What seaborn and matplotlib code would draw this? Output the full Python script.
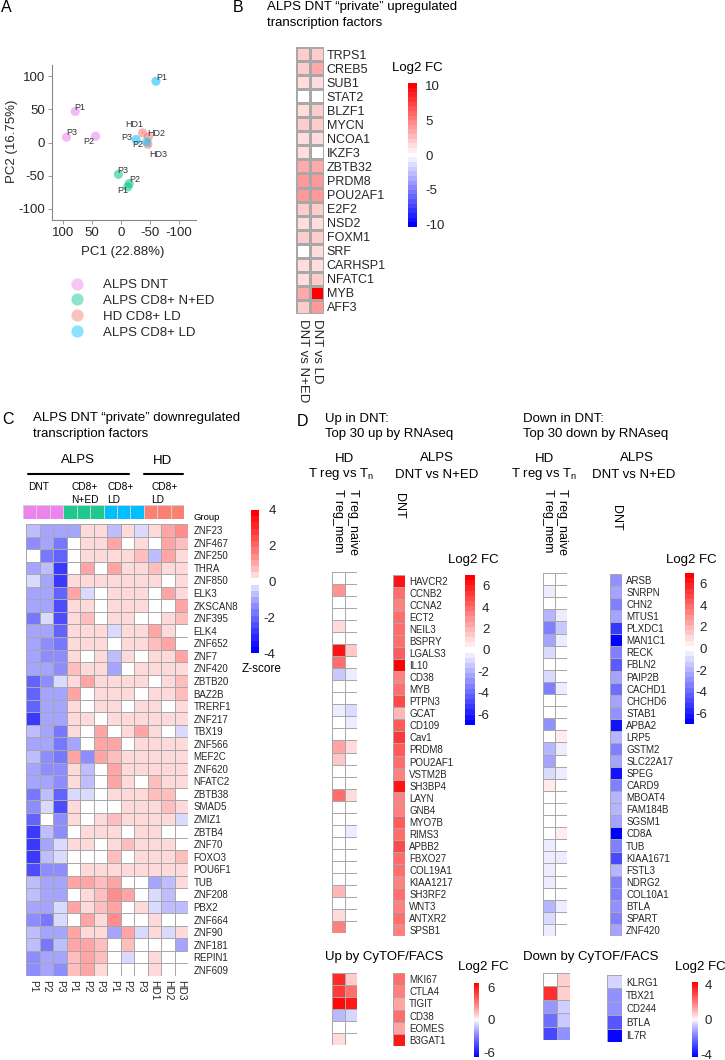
import numpy as np
import pandas as pd
import matplotlib
matplotlib.use("Agg")
import matplotlib.pyplot as plt
from matplotlib.colors import ListedColormap
from matplotlib.lines import Line2D
import seaborn as sns

# ---------------- data ----------------
pca_group = ["ALPS DNT"] * 3 + ["ALPS CD8+ N+ED"] * 3 + ["HD CD8+ LD"] * 3 + ["ALPS CD8+ LD"] * 3
pca_sample = ["P1", "P2", "P3", "P1", "P2", "P3", "HD1", "HD2", "HD3", "P1", "P2", "P3"]
pca_pc1 = [79, 44, 94, -11.5, -14, 4.6, -37, -47, -46, -60, -44, -26]
pca_pc2 = [47, 9.5, 8, -67, -62, -48, 14.5, 8.5, -2.6, 92.5, 1, 4.5]
legend_order = ["ALPS DNT", "ALPS CD8+ N+ED", "HD CD8+ LD", "ALPS CD8+ LD"]

b_genes = ["TRPS1", "CREB5", "SUB1", "STAT2", "BLZF1", "MYCN", "NCOA1", "IKZF3", "ZBTB32", "PRDM8",
           "POU2AF1", "E2F2", "NSD2", "FOXM1", "SRF", "CARHSP1", "NFATC1", "MYB", "AFF3"]
b_vs_ned = [1.9, 2.0, 1.2, 0.0, 1.2, 2.0, 1.2, 1.2, 3.0, 3.8, 3.8, 2.0, 1.2, 2.0, 0.0, 1.2, 1.2, 3.5, 2.0]
b_vs_ld = [1.9, 3.0, 1.2, 0.0, 2.0, 2.0, 1.2, 0.0, 3.0, 4.0, 4.2, 2.0, 1.2, 2.0, 1.2, 1.2, 2.0, 10.0, 4.0]

c_samples = ["P1", "P2", "P3", "P1", "P2", "P3", "P1", "P2", "P3", "HD1", "HD2", "HD3"]
c_groups = ["DNT"] * 3 + ["CD8+ N+ED"] * 3 + ["CD8+ LD"] * 3 + ["HD CD8+ LD"] * 3
c_genes = ["ZNF23", "ZNF467", "ZNF250", "THRA", "ZNF850", "ELK3", "ZKSCAN8", "ZNF395", "ELK4", "ZNF652",
           "ZNF7", "ZNF420", "ZBTB20", "BAZ2B", "TRERF1", "ZNF217", "TBX19", "ZNF566", "MEF2C", "ZNF620",
           "NFATC2", "ZBTB38", "SMAD5", "ZMIZ1", "ZBTB4", "ZNF70", "FOXO3", "POU6F1", "TUB", "ZNF208",
           "PBX2", "ZNF664", "ZNF90", "ZNF181", "REPIN1", "ZNF609"]
c_zscore = [
    [-0.6, -1.0, -0.9, -1.2, 0.4, 0.2, -0.7, 0.5, -0.3, 0.5, 0.9, 1.3],
    [-1.5, -1.0, -1.7, 0.0, 0.3, 0.5, 0.9, 0.0, 0.3, 0.0, 0.9, 0.6],
    [0.0, -1.7, -2.0, 0.0, 0.3, 0.4, 0.5, 0.3, 0.6, -0.6, 0.9, 0.4],
    [-1.2, -0.7, -2.8, 0.0, 1.0, 0.0, 0.9, 0.3, 0.4, 0.6, 0.4, 0.3],
    [-0.4, -1.0, -2.8, 0.4, 0.5, 0.3, 0.4, 0.3, 0.2, 0.3, 0.0, 0.3],
    [-1.2, -1.0, -2.2, 1.0, -0.3, 0.0, 0.5, 0.4, 0.3, 0.0, 0.9, 0.3],
    [-1.0, -0.9, -2.3, 0.3, 0.4, 0.0, 0.4, 0.3, 0.3, 0.0, 0.0, 1.0],
    [-1.7, -0.3, -2.3, 0.3, 0.6, 0.0, 0.4, 0.3, 0.0, 0.0, 0.2, 0.6],
    [-1.0, -1.0, -2.0, 0.3, 0.3, 0.2, -0.3, 0.5, 0.4, 0.9, 0.5, 0.0],
    [-1.0, -1.4, -1.7, 0.3, 0.4, 0.3, 0.0, 0.4, 0.3, 0.7, 0.9, 0.0],
    [-1.2, -1.4, -1.5, 0.3, 0.0, 0.5, -0.7, 0.5, 0.0, 0.5, 0.5, 0.9],
    [-1.0, -1.2, -1.4, 0.7, 0.5, 0.3, -0.9, 0.0, 0.5, 0.4, 0.5, 0.3],
    [-2.2, -1.4, -0.4, 0.5, 0.9, 0.3, 0.3, 0.4, 0.2, 0.0, 0.3, 0.6],
    [-2.0, -1.0, -1.2, 1.1, 0.0, 0.2, 0.3, 0.4, 0.0, 0.3, 0.3, 0.6],
    [-2.2, -1.2, -1.0, 0.5, 0.0, 0.4, 0.5, 0.0, 0.3, 0.3, 0.0, 0.5],
    [-2.8, -1.0, -0.9, 0.4, 0.3, 0.0, 0.4, 0.3, 0.3, 0.4, 0.5, 0.5],
    [-0.6, -1.2, -1.7, 0.4, 0.0, 1.1, 0.0, 0.4, 1.1, 0.3, 0.0, -0.3],
    [-1.0, -1.2, -1.7, -1.2, 0.0, 1.1, 0.9, 0.0, 0.3, 0.3, 0.3, 0.4],
    [-0.7, -1.4, -1.7, 0.9, -1.3, 0.9, 0.6, 0.3, 0.4, 0.3, 0.3, 0.4],
    [-1.0, -1.4, -1.5, 0.5, -0.6, 0.0, 0.9, 0.3, 0.3, 0.5, 0.3, 0.5],
    [-1.0, -1.2, -1.5, 0.4, -0.8, 0.0, 1.0, 0.4, 0.0, 0.8, 0.3, 0.3],
    [-1.7, -0.6, -2.0, -0.3, -0.3, 0.0, 0.4, 0.3, 0.3, 0.8, 0.6, 0.0],
    [-1.5, -0.4, -2.3, 0.3, 0.0, 0.0, 0.0, 0.5, 0.5, 0.3, 0.8, 0.5],
    [-2.0, 0.0, -1.5, 0.3, 0.0, 0.3, 0.8, 0.3, 0.3, 0.3, 0.3, -0.3],
    [-2.7, -0.6, -1.5, 0.0, 0.4, 0.3, 0.5, 0.0, 0.3, 0.5, 0.0, 0.0],
    [-2.7, -1.0, -0.5, 0.3, 0.4, 0.0, 0.3, 0.8, 0.5, 0.3, 0.4, 0.0],
    [-2.7, -0.6, -0.4, 0.0, 0.0, 0.0, 0.6, 0.0, 0.5, 0.5, 0.3, 0.6],
    [-2.3, -1.5, -1.5, 0.0, 0.3, 0.3, 0.3, 0.5, 0.5, 0.4, 0.4, 0.3],
    [-0.6, -1.0, -1.0, 0.9, 0.9, 0.6, 0.9, 0.0, 0.0, -1.2, -0.7, 0.3],
    [-0.6, -1.0, -0.9, 0.0, 0.4, 0.7, 1.3, 0.9, 0.0, -0.3, -0.7, 0.0],
    [-1.0, -1.0, -0.3, 0.9, 0.5, 0.6, 1.1, 0.0, 0.5, -0.3, -0.7, -0.7],
    [-1.3, -1.9, -0.3, 0.0, 0.9, 0.4, 1.3, 0.0, 0.0, 0.3, 0.0, 0.0],
    [-0.7, -1.0, -1.2, 1.1, 0.3, 0.5, -1.0, 1.1, -0.3, 0.3, -0.3, 0.5],
    [-0.6, -1.9, -0.7, 1.1, 0.9, 0.8, 0.0, 0.6, 0.0, 0.0, 0.0, -0.9],
    [-1.4, -1.0, -1.2, 0.8, 1.2, 0.6, 0.0, -0.3, 0.0, 0.4, 0.0, 0.0],
    [-1.4, -1.0, -1.4, 0.6, 1.0, 0.5, 0.0, 0.0, 0.0, 0.5, 0.0, 0.0],
]

d_up_genes = ["HAVCR2", "CCNB2", "CCNA2", "ECT2", "NEIL3", "BSPRY", "LGALS3", "IL10", "CD38", "MYB",
              "PTPN3", "GCAT", "CD109", "Cav1", "PRDM8", "POU2AF1", "VSTM2B", "SH3BP4", "LAYN", "GNB4",
              "MYO7B", "RIMS3", "APBB2", "FBXO27", "COL19A1", "KIAA1217", "SH3RF2", "WNT3", "ANTXR2", "SPSB1"]
d_up_treg_mem = [0, 3, 0, 0, 1.2, 0, 6.5, 4, -1.5, 0, 0, -0.7, 0, 0, 2.5, 1.5, 0, 0, 4, 0,
                 0, 0, 0, 0, 0, 0, 2, 0, 1.2, 3.5]
d_up_treg_naive = [0, 0, 0, 0, 0, 0, 1.5, 0, -0.7, 0, 0, -1.0, -0.7, 0, 1.2, 0, 0, 0, 1.2, 0,
                   0, -0.7, 0, 0, 0, 0, 0, 0, 0, 0]
d_up_dnt = [6.2, 3.8, 3.5, 3.8, 3.8, 3.8, 4.3, 7, 3.5, 3.8, 4.8, 2.0, 4.3, 5.5, 4.3, 3.8, 3.5, 6.3, 3.5, 3.5,
            4.3, 3.8, 5.0, 3.8, 3.8, 3.5, 3.8, 3.5, 3.8, 3.5]

d_down_genes = ["ARSB", "SNRPN", "CHN2", "MTUS1", "PLXDC1", "MAN1C1", "RECK", "FBLN2", "PAIP2B", "CACHD1",
                "CHCHD6", "STAB1", "APBA2", "LRP5", "GSTM2", "SLC22A17", "SPEG", "CARD9", "MBOAT4", "FAM184B",
                "SGSM1", "CD8A", "TUB", "KIAA1671", "FSTL3", "NDRG2", "COL10A1", "BTLA", "SPART", "ZNF420"]
d_down_treg_mem = [0, -0.7, 0, -1.7, -3.5, -2.4, -1.2, 0, -1.2, -3.2, 0, 0, -2.7, 0, -1.7, -2.2, -1.2, 0.6, 0, 0,
                   0, 0, -0.7, -0.6, -0.7, -0.6, 0, -1.7, -1.2, -0.7]
d_down_treg_naive = [0, 0, 0, -0.7, -1.3, -0.7, 0, 0, 0, -0.7, 0, 0, 0, 0.6, -0.6, 0, -0.6, 0, 0, 0,
                     0, 0.6, 0, -0.6, 0, 0, 0, -0.6, 0, 0]
d_down_dnt = [-2.9, -2.3, -3.3, -2.5, -5.5, -6.8, -3.5, -4.2, -2.5, -4.0, -2.6, -2.8, -6.5, -2.0, -3.2, -2.6,
              -6.3, -3.3, -1.8, -1.8, -2.3, -7.0, -3.3, -4.8, -1.8, -3.3, -3.3, -3.0, -3.6, -2.3]

cy_up_genes = ["MKI67", "CTLA4", "TIGIT", "CD38", "EOMES", "B3GAT1"]
cy_up_treg_mem = [5.5, 5, 6.5, -1.5, 0, 0.7]
cy_up_treg_naive = [1, 3.5, 6, -0.8, 0, 0]
cy_up_dnt = [3.5, 3, 2, 3.5, 2, 6]

cy_down_genes = ["KLRG1", "TBX21", "CD244", "BTLA", "IL7R"]
cy_down_treg_mem = [0, 3.4, -1.5, -2.2, -2.9]
cy_down_treg_naive = [0.6, 0.6, -0.6, -0.7, -1.6]
cy_down_dnt = [-0.5, -1.6, -1.6, -2.6, -4.2]

# ---------------- style ----------------
sns.set_theme(style="white")
plt.rcParams["font.family"] = ["Liberation Sans", "DejaVu Sans"]
plt.rcParams["mathtext.fontset"] = "custom"
plt.rcParams["mathtext.rm"] = "Liberation Sans"
plt.rcParams["axes.unicode_minus"] = False

W, H = 725, 1060
fig = plt.figure(figsize=(W / 100, H / 100), dpi=100)
fig.patch.set_facecolor("white")


def box(x0, y0, x1, y1):
    return fig.add_axes([x0 / W, 1 - y1 / H, (x1 - x0) / W, (y1 - y0) / H])


def ftext(x, y, s, **kw):
    kw.setdefault("va", "center")
    kw.setdefault("color", "black")
    return fig.text(x / W, 1 - y / H, s, **kw)


def hline(x0, x1, y, lw=1.5):
    fig.add_artist(Line2D([x0 / W, x1 / W], [1 - y / H, 1 - y / H], color="black", lw=lw,
                          transform=fig.transFigure))


def stepped_cmap(n_side, white_bins=1, gamma=1.0):
    cols = []
    for i in range(n_side, 0, -1):
        f = (i / n_side) ** gamma
        cols.append((1 - f, 1 - f, 1.0))
    cols += [(1.0, 1.0, 1.0)] * white_bins
    for i in range(1, n_side + 1):
        f = (i / n_side) ** gamma
        cols.append((1.0, 1 - f, 1 - f))
    return ListedColormap(cols)


smooth = stepped_cmap(100, 1, 0.85)
GRID = "#a8a8a8"


def hm(ax, df, cmap, vmin, vmax, cax=None, ylabels=True, fs=7, pad=2, lw=0.7):
    sns.heatmap(df, ax=ax, cmap=cmap, vmin=vmin, vmax=vmax, cbar=cax is not None, cbar_ax=cax,
                linewidths=lw, linecolor=GRID, xticklabels=False, yticklabels=ylabels)
    ax.set_xlabel("")
    ax.set_ylabel("")
    if ylabels:
        ax.yaxis.tick_right()
        ax.tick_params(axis="y", length=0, pad=pad, labelsize=fs, labelrotation=0)
    else:
        ax.tick_params(left=False, bottom=False)
    if cax is not None:
        cb = ax.collections[0].colorbar
        cb.outline.set_visible(False)
        return cb
    return None


def style_cbar(cb, ticks, pad, align="left", fs=9.5):
    cb.set_ticks(ticks)
    cb.ax.tick_params(length=0, labelsize=fs, pad=pad)
    for t in cb.ax.get_yticklabels():
        t.set_ha(align)


# ---------------- Panel A ----------------
ftext(1, 8, "A", fontsize=11.5)
axA = box(52, 65, 196, 220)
pal = {"ALPS DNT": "#EE82EE", "ALPS CD8+ N+ED": "#00C68A", "HD CD8+ LD": "#F8766D", "ALPS CD8+ LD": "#00BFFF"}
dfA = pd.DataFrame({"PC1": pca_pc1, "PC2": pca_pc2, "Group": pca_group, "Sample": pca_sample})
sns.scatterplot(data=dfA, x="PC1", y="PC2", hue="Group", hue_order=legend_order, palette=pal,
                s=44, alpha=0.55, edgecolor="none", ax=axA, legend=False)
axA.set_xlim(119, -129)
axA.set_ylim(-117, 117)
axA.set_xticks([100, 50, 0, -50, -100])
axA.set_yticks([100, 50, 0, -50, -100])
for sp in ["top", "right"]:
    axA.spines[sp].set_visible(False)
for sp in ["left", "bottom"]:
    axA.spines[sp].set_color("#888888")
    axA.spines[sp].set_linewidth(0.8)
axA.tick_params(left=True, bottom=True, length=3, width=0.6, color="#888888", labelsize=9.5, pad=2)
axA.set_xlabel("PC1 (22.88%)", fontsize=9.5)
axA.set_ylabel("PC2 (16.75%)", fontsize=9.5)
axA.xaxis.set_label_coords(0.49, -0.165)
axA.yaxis.set_label_coords(-0.235, 0.51)

lab_off = [(-1, 4, "left"), (-1, -5, "right"), (0, 5, "left"), (0, -4, "right"), (0, 4, "left"),
           (-1, 4, "left"), (1, 8, "right"), (-1, 3, "left"), (1, -10, "left"), (0, 4, "left"),
           (-3, -3, "right"), (-4, 2, "right")]
for i, (xv, yv, s) in enumerate(zip(pca_pc1, pca_pc2, pca_sample)):
    dx, dy, ha = lab_off[i]
    kw = {}
    if s in ("HD1", "HD3"):
        kw["arrowprops"] = dict(arrowstyle="-", lw=0.5, color="#555555", shrinkA=0, shrinkB=2)
    axA.annotate(s, (xv, yv), xytext=(dx * 0.72, dy * 0.72), textcoords="offset points",
                 ha=ha, va="center", fontsize=6.5, color="#333333", **kw)

handles = [Line2D([], [], marker="o", ls="", markersize=8.8, markerfacecolor=pal[g],
                  markeredgecolor="none", alpha=0.45) for g in legend_order]
axA.legend(handles, legend_order, loc="upper left", bbox_to_anchor=(70 / W, 1 - 279 / H),
           bbox_transform=fig.transFigure, frameon=False, fontsize=9.5, handlelength=1.0,
           handletextpad=1.5, labelspacing=0.27, borderpad=0, borderaxespad=0)

# ---------------- Panel B ----------------
ftext(233, 8, "B", fontsize=11.5)
ftext(267, 7, "ALPS DNT \u201cprivate\u201d upregulated", fontsize=9.5)
ftext(267, 23, "transcription factors", fontsize=9.5)
axB = box(296, 47, 324, 314)
caxB = box(408, 83, 417, 227)
dfB = pd.DataFrame({"DNT vs N+ED": b_vs_ned, "DNT vs LD": b_vs_ld}, index=b_genes)
cbB = hm(axB, dfB, stepped_cmap(15, 1, 1.0), -10.3, 10.3, cax=caxB, fs=9, pad=2, lw=0.8)
axB.set_xticks(np.arange(len(dfB.columns)) + 0.5)
axB.set_xticklabels(dfB.columns)
axB.tick_params(axis="x", bottom=True, length=0, pad=3.5, labelsize=9.5, labelrotation=270)
style_cbar(cbB, [10, 5, 0, -5, -10], pad=6)
ftext(392, 68, "Log2 FC", fontsize=9.5)

# ---------------- Panel C ----------------
ftext(2, 419, "C", fontsize=11.5)
ftext(33, 418, "ALPS DNT \u201cprivate\u201d downregulated", fontsize=9.5)
ftext(33, 434, "transcription factors", fontsize=9.5)
ftext(78, 460, "ALPS", fontsize=9.5, ha="center")
ftext(162, 461, "HD", fontsize=9.5, ha="center")
hline(28, 129, 474)
hline(144, 183, 474)
ftext(28, 487, "DNT", fontsize=7.3)
ftext(71, 487, "CD8+", fontsize=7.3)
ftext(71, 500, "N+ED", fontsize=7.3)
ftext(107, 487, "CD8+", fontsize=7.3)
ftext(107, 500, "LD", fontsize=7.3)
ftext(151, 487, "CD8+", fontsize=7.3)
ftext(151, 500, "LD", fontsize=7.3)

group_colors = ["#EE82EE", "#1DC98C", "#00BFFF", "#FA8072"]
group_levels = ["DNT", "CD8+ N+ED", "CD8+ LD", "HD CD8+ LD"]
axG = box(23, 505, 184, 519)
dfG = pd.DataFrame([[group_levels.index(g) for g in c_groups]], index=["Group"])
sns.heatmap(dfG, ax=axG, cmap=ListedColormap(group_colors), vmin=-0.5, vmax=3.5, cbar=False,
            linewidths=0.6, linecolor="#d0d0d0", xticklabels=False, yticklabels=False)
axG.set_xlabel("")
axG.set_ylabel("")
ftext(194, 517, "Group", fontsize=6.8)

axC = box(26, 524, 188, 976)
caxC = box(251, 510, 259, 653)
dfC = pd.DataFrame(c_zscore, index=c_genes, columns=range(len(c_samples)))
cbC = hm(axC, dfC, stepped_cmap(11, 1, 0.8), -4, 4, cax=caxC, fs=7, pad=4)
axC.set_xticks(np.arange(len(c_samples)) + 0.5)
axC.set_xticklabels(c_samples)
axC.tick_params(axis="x", bottom=True, length=0, pad=3, labelsize=7.3, labelrotation=270)
style_cbar(cbC, [4, 2, 0, -2, -4], pad=12, align="right")
ftext(242, 669, "Z-score", fontsize=8.5)

# ---------------- Panel D ----------------
ftext(297, 421, "D", fontsize=11.5)
ftext(325, 419, "Up in DNT:", fontsize=9.5)
ftext(325, 434, "Top 30 up by RNAseq", fontsize=9.5)
ftext(523, 419, "Down in DNT:", fontsize=9.5)
ftext(523, 434, "Top 30 down by RNAseq", fontsize=9.5)

tn = "T reg vs T$_\\mathregular{n}$"
ftext(344, 459, "HD", fontsize=9.5, ha="center")
ftext(341, 474, tn, fontsize=9.5, ha="center")
ftext(437, 458, "ALPS", fontsize=9.5, ha="center")
ftext(437, 475, "DNT vs N+ED", fontsize=9.5, ha="center")
ftext(545, 459, "HD", fontsize=9.5, ha="center")
ftext(544, 474, tn, fontsize=9.5, ha="center")
ftext(637, 458, "ALPS", fontsize=9.5, ha="center")
ftext(634, 475, "DNT vs N+ED", fontsize=9.5, ha="center")

for x, y, s in [(338, 489, "T reg_mem"), (353, 489, "T reg_naive"), (399, 493, "DNT"),
                (548, 489, "T reg_mem"), (562, 489, "T reg_naive"), (616, 505, "DNT")]:
    ftext(x, y, s, fontsize=9, rotation=270, ha="center", va="top")

cmapD = stepped_cmap(14, 1, 1.0)
# up RNAseq
axDu_hd = box(332, 572, 357, 933)
hm(axDu_hd, pd.DataFrame({"T reg_mem": d_up_treg_mem, "T reg_naive": d_up_treg_naive}, index=d_up_genes),
   cmapD, -7, 7, ylabels=False)
axDu = box(393, 575, 405, 936)
caxDu = box(465, 575, 475, 725)
cb = hm(axDu, pd.DataFrame({"DNT": d_up_dnt}, index=d_up_genes), cmapD, -7, 7, cax=caxDu, fs=7, pad=3)
style_cbar(cb, [6, 4, 2, 0, -2, -4, -6], pad=10.4, align="right")
ftext(448, 560, "Log2 FC", fontsize=9.5)

# down RNAseq
axDd_hd = box(543, 573, 567, 936)
hm(axDd_hd, pd.DataFrame({"T reg_mem": d_down_treg_mem, "T reg_naive": d_down_treg_naive}, index=d_down_genes),
   cmapD, -7, 7, ylabels=False)
axDd = box(610, 574, 622, 936)
caxDd = box(685, 573, 694, 724)
cb = hm(axDd, pd.DataFrame({"DNT": d_down_dnt}, index=d_down_genes), cmapD, -7, 7, cax=caxDd, fs=7, pad=3)
style_cbar(cb, [6, 4, 2, 0, -2, -4, -6], pad=9.4, align="right")
ftext(666, 560, "Log2 FC", fontsize=9.5)

# CyTOF up
ftext(325, 957, "Up by CyTOF/FACS", fontsize=9.5)
axCu_hd = box(332, 973, 357, 1045)
hm(axCu_hd, pd.DataFrame({"T reg_mem": cy_up_treg_mem, "T reg_naive": cy_up_treg_naive}, index=cy_up_genes),
   smooth, -6.8, 6.8, ylabels=False)
axCu = box(393, 973, 405, 1046)
caxCu = box(474, 983, 479, 1057)
cb = hm(axCu, pd.DataFrame({"DNT": cy_up_dnt}, index=cy_up_genes), smooth, -6.8, 6.8, cax=caxCu, fs=7, pad=3)
style_cbar(cb, [6, 0, -6], pad=11.5, align="right")
ftext(458, 967, "Log2 FC", fontsize=9.5)

# CyTOF down
ftext(523, 957, "Down by CyTOF/FACS", fontsize=9.5)
axCd_hd = box(543, 973, 570, 1040)
hm(axCd_hd, pd.DataFrame({"T reg_mem": cy_down_treg_mem, "T reg_naive": cy_down_treg_naive}, index=cy_down_genes),
   smooth, -4.3, 4.3, ylabels=False)
axCd = box(607, 975, 622, 1042)
caxCd = box(692, 982, 698, 1057)
cb = hm(axCd, pd.DataFrame({"DNT": cy_down_dnt}, index=cy_down_genes), smooth, -4.3, 4.3, cax=caxCd, fs=7, pad=3)
style_cbar(cb, [4, 0, -4], pad=10, align="right")
ftext(675, 967, "Log2 FC", fontsize=9.5)

fig.savefig("out.png", dpi=100, facecolor="white")
